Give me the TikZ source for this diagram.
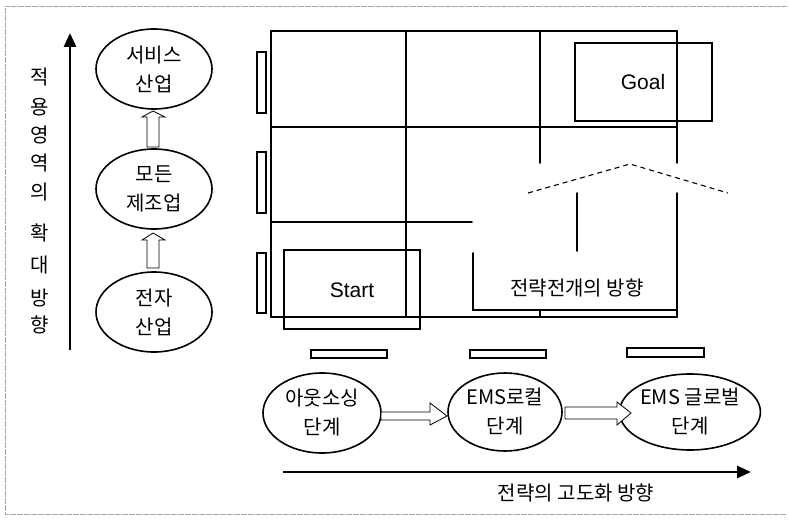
\documentclass[tikz,border=0pt]{standalone}
\usepackage{fontspec}
\setmainfont{Liberation Sans}
\newfontfamily\kr{Noto Sans CJK KR}
\usetikzlibrary{shapes.geometric,arrows.meta}
\begin{document}
\begin{tikzpicture}[x=1pt,y=-1pt,
  gridline/.style={line width=1.7pt,line cap=round},
  thinbox/.style={draw,line width=1.3pt},
  oval/.style={draw,ellipse,line width=1.6pt,inner sep=0pt,minimum width=116pt,minimum height=80pt,align=center,font={\kr\fontsize{20}{29}\selectfont}},
  blockarrow/.style={draw,fill=white,line width=0.8pt,line join=miter},
  bigarrow/.style={line width=2.8pt,-{Triangle[length=14pt,width=12pt]}},
  krlabel/.style={font={\kr\fontsize{20}{24}\selectfont},inner sep=0pt},
  enlabel/.style={font={\fontsize{21}{25}\selectfont},inner sep=0pt},
  frame/.style={draw=black!35,line width=0.5pt,dash pattern=on 6pt off 1pt}]
\useasboundingbox (0,0) rectangle (789,519);
% faint scan frame
\draw[frame] (787,6) -- (5,6) -- (5,514) -- (787,514);

% ---------- left column ----------
\coordinate (vb) at (70,350);
\coordinate (vt) at (70,33);
\draw[bigarrow] (vb) -- (vt);
\foreach \ch/\yy in {적/77,용/107,영/135,역/163,의/192,확/233,대/265,방/298,향/325}
  \node[krlabel] (v\yy) at (40,\yy) {\ch};

\node[oval] (svc) at (154,69) {서비스\\산업};
\node[oval] (mfg) at (154,189) {모든\\제조업};
\node[oval] (ele) at (154,312) {전자\\산업};

\draw[blockarrow] (147,147) -- (147,117) -- (142,117) -- (153,111) -- (165,117) -- (159,117) -- (159,147) -- cycle;
\draw[blockarrow] (147,268) -- (147,240) -- (142,240) -- (153,233) -- (165,240) -- (159,240) -- (159,268) -- cycle;

% ---------- grid ----------
\draw[gridline] (271,31) -- (677,31);
\draw[gridline] (271,31) -- (271,317);
\draw[gridline] (677,31) -- (677,163);
\draw[gridline] (677,193) -- (677,317);
\draw[gridline] (406,31) -- (406,317);
\draw[gridline] (540,31) -- (540,163);
\draw[gridline] (540,310) -- (540,317);
\draw[gridline] (271,127) -- (677,127);
\draw[gridline] (271,222) -- (472,222);
\draw[gridline] (271,317) -- (677,317);
% strategy direction arrow
\draw[gridline] (473,253) -- (473,310) -- (677,310);
\draw[gridline] (577,193) -- (577,251);
\draw[line width=1.1pt,dash pattern=on 5pt off 4pt] (528,193) -- (630,164) -- (728,193);
\node[krlabel] (dir) at (577,288) {전략전개의 방향};

% start / goal boxes
\draw[thinbox,line width=1.5pt] (284,250) rectangle (420,329);
\node[enlabel] (start) at (352,290) {Start};
\draw[thinbox,line width=1.5pt] (575,43) rectangle (712,121);
\node[enlabel] (goal) at (643,82) {Goal};

% small bars
\draw[thinbox] (257,52) rectangle (266,113);
\draw[thinbox] (257,152) rectangle (266,213);
\draw[thinbox] (257,253) rectangle (266,313);
\draw[thinbox] (311,350) rectangle (387,358);
\draw[thinbox] (470,350) rectangle (546,358);
\draw[thinbox] (627,348) rectangle (704,357);

% ---------- bottom stages ----------
\node[oval,minimum width=118pt,minimum height=80pt] (out) at (322,413) {아웃소싱\\단계};
\node[oval,minimum width=114pt,minimum height=78pt] (loc) at (505,412) {EMS로컬\\단계};
\node[oval,minimum width=120pt,minimum height=76pt] (glo) at (690,412) {EMS 글로벌\\단계};

\draw[blockarrow] (381,412) -- (430,412) -- (430,403) -- (447,416) -- (430,425) -- (430,420) -- (381,420) -- cycle;
\draw[blockarrow] (565,407) -- (617,407) -- (617,402) -- (631,413) -- (617,425) -- (617,419) -- (565,419) -- cycle;

\coordinate (hb) at (283,472);
\coordinate (ht) at (751,472);
\draw[bigarrow] (hb) -- (ht);
\node[krlabel] (adv) at (576,493) {전략의 고도화 방향};
\end{tikzpicture}
\end{document}
